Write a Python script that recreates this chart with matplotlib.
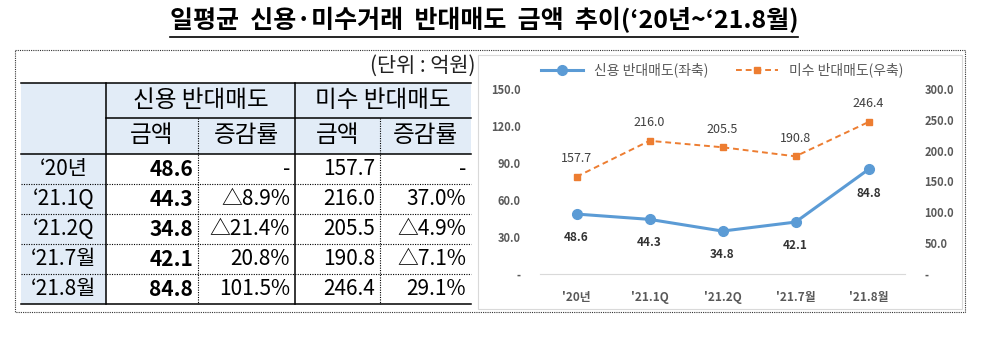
import matplotlib
matplotlib.use("Agg")
import matplotlib.pyplot as plt
from matplotlib.patches import Rectangle

plt.rcParams['font.family'] = ['Noto Sans CJK KR', 'DejaVu Sans']

# data
periods = ["‘20년", "‘21.1Q", "‘21.2Q", "‘21.7월", "‘21.8월"]
chart_labels = ["'20년", "'21.1Q", "'21.2Q", "'21.7월", "'21.8월"]
credit_amt = [48.6, 44.3, 34.8, 42.1, 84.8]
credit_chg = ["-", "△8.9%", "△21.4%", "20.8%", "101.5%"]
margin_amt = [157.7, 216.0, 205.5, 190.8, 246.4]
margin_chg = ["-", "37.0%", "△4.9%", "△7.1%", "29.1%"]
left_ticks = [0, 30, 60, 90, 120, 150]
right_ticks = [0, 50, 100, 150, 200, 250, 300]

W, H = 981, 337
BLUE = "#5B9BD5"
ORANGE = "#ED7D31"
HEAD_BG = "#E2ECF7"

fig = plt.figure(figsize=(W / 100, H / 100), dpi=100)
ax0 = fig.add_axes([0, 0, 1, 1])
ax0.set_xlim(0, W)
ax0.set_ylim(H, 0)
ax0.axis("off")

# title with underline
title = ax0.text(484, 20, "일평균  신용·미수거래  반대매도  금액  추이(‘20년~‘21.8월)",
                 ha="center", va="center", fontsize=18, fontweight="bold")
fig.canvas.draw()
bb = title.get_window_extent().transformed(ax0.transData.inverted())
ax0.plot([bb.x0, bb.x1], [37, 37], color="black", lw=1.2)

# dotted outer frame
ax0.add_patch(Rectangle((15, 50), 950, 262, fill=False, ls=(0, (1, 1)), lw=0.8, ec="#333333"))
# chart frame
ax0.add_patch(Rectangle((478, 55), 484, 254, fill=False, lw=0.8, ec="#D9D9D9"))

# table geometry
cols = [21, 106, 198, 295, 380, 471]
hdr = [83, 118, 154]
row_h = 30
rows = [hdr[2] + i * row_h for i in range(len(periods) + 1)]

ax0.text(475, 66, "(단위 : 억원)", ha="right", va="center", fontsize=15, color="#222222")

ax0.add_patch(Rectangle((cols[0], hdr[0]), cols[-1] - cols[0], hdr[2] - hdr[0], color=HEAD_BG, lw=0))
ax0.add_patch(Rectangle((cols[0], rows[0]), cols[1] - cols[0], rows[-1] - rows[0], color=HEAD_BG, lw=0))

solid = dict(color="black", lw=1.1)
dotted = dict(color="black", lw=0.8, ls=(0, (1, 1.2)))
ax0.plot([cols[0], cols[-1]], [hdr[0]] * 2, **solid)
ax0.plot([cols[1], cols[-1]], [hdr[1]] * 2, **solid)
ax0.plot([cols[0], cols[-1]], [hdr[2]] * 2, **solid)
ax0.plot([cols[0], cols[-1]], [rows[-1]] * 2, **solid)
for y in rows[1:-1]:
    ax0.plot([cols[0], cols[-1]], [y, y], **dotted)
for x in (cols[1], cols[3]):
    ax0.plot([x, x], [hdr[0], rows[-1]], **solid)
for x in (cols[2], cols[4]):
    ax0.plot([x, x], [hdr[1], rows[-1]], **dotted)

fs = 15
hfs = 17
ax0.text((cols[1] + cols[3]) / 2, (hdr[0] + hdr[1]) / 2, "신용 반대매도", ha="center", va="center", fontsize=hfs)
ax0.text((cols[3] + cols[5]) / 2, (hdr[0] + hdr[1]) / 2, "미수 반대매도", ha="center", va="center", fontsize=hfs)
for i, lab in enumerate(["금액", "증감률", "금액", "증감률"]):
    ax0.text((cols[i + 1] + cols[i + 2]) / 2, (hdr[1] + hdr[2]) / 2, lab, ha="center", va="center", fontsize=hfs)

pad = 5
for i, p in enumerate(periods):
    yc = (rows[i] + rows[i + 1]) / 2
    ax0.text((cols[0] + cols[1]) / 2, yc, p, ha="center", va="center", fontsize=fs)
    ax0.text(cols[2] - pad, yc, f"{credit_amt[i]:.1f}", ha="right", va="center", fontsize=fs, fontweight="bold")
    ax0.text(cols[3] - pad, yc, credit_chg[i], ha="right", va="center", fontsize=fs)
    ax0.text(cols[4] - pad, yc, f"{margin_amt[i]:.1f}", ha="right", va="center", fontsize=fs)
    ax0.text(cols[5] - pad, yc, margin_chg[i], ha="right", va="center", fontsize=fs)

# chart
x0, x1 = 540, 905
yb, yt = 274, 89
ax = fig.add_axes([x0 / W, 1 - yb / H, (x1 - x0) / W, (yb - yt) / H])
ax2 = ax.twinx()
xs = list(range(len(chart_labels)))

l2, = ax2.plot(xs, margin_amt, color=ORANGE, ls=(0, (3, 2)), lw=1.4, marker="s", ms=5,
               label="미수 반대매도(우축)")
l1, = ax.plot(xs, credit_amt, color=BLUE, lw=2.2, marker="o", ms=7, label="신용 반대매도(좌축)")
ax.set_zorder(ax2.get_zorder() + 1)
ax.patch.set_visible(False)

for x, v in zip(xs, credit_amt):
    ax.annotate(f"{v:.1f}", (x, v), xytext=(0, -17), textcoords="offset points",
                ha="center", va="center", fontsize=8.5, fontweight="bold", color="#333333")
for x, v in zip(xs, margin_amt):
    ax2.annotate(f"{v:.1f}", (x, v), xytext=(0, 13), textcoords="offset points",
                 ha="center", va="center", fontsize=9, color="#404040")

ax.set_xlim(-0.5, len(xs) - 0.5)
ax.set_ylim(0, 150)
ax2.set_ylim(0, 300)
ax.set_yticks(left_ticks)
ax.set_yticklabels(["-" if t == 0 else f"{t:.1f}" for t in left_ticks])
ax2.set_yticks(right_ticks)
ax2.set_yticklabels(["-" if t == 0 else f"{t:.1f}" for t in right_ticks])
ax.set_xticks(xs)
ax.set_xticklabels(chart_labels)

for a in (ax, ax2):
    for s in a.spines.values():
        s.set_visible(False)
    a.tick_params(length=0, colors="#595959", labelsize=8)
ax.spines["bottom"].set_visible(True)
ax.spines["bottom"].set_color("#D9D9D9")
ax.tick_params(axis="y", pad=14)
ax2.tick_params(axis="y", pad=14)
ax.tick_params(axis="x", pad=12, labelsize=8.5)
for t in ax.get_yticklabels() + ax2.get_yticklabels() + ax.get_xticklabels():
    t.set_fontweight("bold")

fig.legend(handles=[l1, l2], loc="center", bbox_to_anchor=(722 / W, 1 - 70 / H), ncol=2,
           frameon=False, fontsize=10, handlelength=3, columnspacing=2, labelcolor="#595959")

fig.savefig("out.png", dpi=100)
